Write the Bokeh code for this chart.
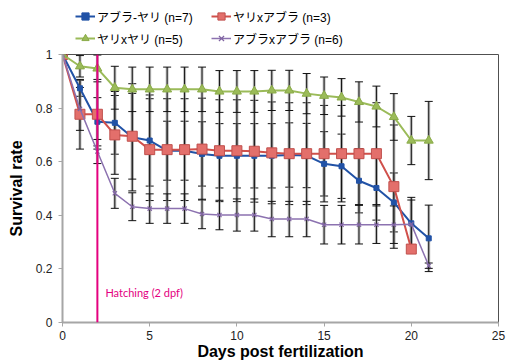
from bokeh.plotting import figure
from bokeh.layouts import column
from bokeh.models import ColumnDataSource, Legend, LegendItem, FixedTicker, Span, Label
from bokeh.embed import file_html
from bokeh.resources import INLINE

# ---- data ----
days = list(range(22))
abura_yari = [1.0, 0.874, 0.749, 0.745, 0.691, 0.679, 0.641, 0.641, 0.629, 0.622, 0.622,
              0.622, 0.622, 0.625, 0.623, 0.592, 0.583, 0.529, 0.502, 0.448, 0.370, 0.314]
abura_yari_err = [0, 0.03, 0.09, 0.117, 0.2, 0.17, 0.11, 0.11, 0.12, 0.12, 0.12,
                  0.12, 0.12, 0.12, 0.12, 0.12, 0.12, 0.12, 0.12, 0.11, 0.097, 0.124]
yari_abura = [1.0, 0.777, 0.777, 0.700, 0.695, 0.645, 0.645, 0.645, 0.647, 0.641, 0.641,
              0.639, 0.633, 0.630, 0.630, 0.630, 0.630, 0.630, 0.630, 0.507, 0.274]
yari_abura_err = [0, 0.13, 0.13, 0.147, 0.16, 0.19, 0.19, 0.19, 0.19, 0.19, 0.19,
                  0.19, 0.19, 0.19, 0.19, 0.18, 0.18, 0.19, 0.19, 0.23, 0.0]
yari_yari = [1.0, 0.956, 0.948, 0.876, 0.870, 0.870, 0.870, 0.870, 0.870, 0.862, 0.862,
             0.862, 0.866, 0.866, 0.854, 0.846, 0.840, 0.823, 0.806, 0.767, 0.679, 0.679]
yari_yari_err = [0, 0.04, 0.05, 0.08, 0.083, 0.083, 0.083, 0.083, 0.083, 0.078, 0.078,
                 0.078, 0.075, 0.075, 0.075, 0.07, 0.07, 0.075, 0.076, 0.087, 0.09, 0.146]
abura_abura = [1.0, 0.797, 0.638, 0.482, 0.432, 0.425, 0.425, 0.425, 0.405, 0.401, 0.401,
               0.401, 0.386, 0.386, 0.386, 0.365, 0.365, 0.365, 0.365, 0.365, 0.367, 0.212]
abura_abura_err = [0, 0.08, 0.045, 0.056, 0.052, 0.055, 0.055, 0.055, 0.055, 0.055, 0.06,
                   0.06, 0.066, 0.066, 0.066, 0.072, 0.072, 0.072, 0.07, 0.07, 0.09, 0.01]
labels = ["アブラ-ヤリ (n=7)", "ヤリxアブラ (n=3)", "ヤリxヤリ (n=5)", "アブラxアブラ (n=6)"]
x_ticks = [0, 5, 10, 15, 20, 25]
y_ticks = [0, 0.2, 0.4, 0.6, 0.8, 1.0]
y_tick_labels = ["0", "0.2", "0.4", "0.6", "0.8", "1"]
hatching_day = 2
hatching_label = "Hatching (2 dpf)"

FONT = "Liberation Sans"
JFONT = "Liberation Sans, Noto Sans CJK JP"

series = [
    (abura_yari, abura_yari_err, "#2152a6", "#2152a6", "#2152a6", "square", 5, 2),
    (yari_abura, yari_abura_err, "#d0504b", "#e36f6b", "#c0504d", "square", 10, 2),
    (yari_yari, yari_yari_err, "#9bbb59", "#9bbb59", "#8aab48", "triangle", 9, 2),
    (abura_abura, abura_abura_err, "#8c72b0", "#8c72b0", "#8064a2", "x", 6, 1.5),
]

# ---------------- main chart ----------------
p = figure(width=506, height=316, x_range=(0, 25), y_range=(0, 1),
           output_backend="svg", toolbar_location=None,
           min_border_left=62, min_border_right=8, min_border_top=7, min_border_bottom=41)
p.background_fill_color = "white"
p.border_fill_color = "white"
p.xgrid.visible = False
p.ygrid.visible = False
p.outline_line_color = "#505050"
p.outline_line_width = 1

for ax in (p.xaxis[0], p.yaxis[0]):
    ax.axis_line_color = "#a6a6a6"
    ax.axis_line_width = 2
    ax.major_tick_line_color = "#a6a6a6"
    ax.major_tick_line_width = 1
    ax.major_tick_out = 4
    ax.major_tick_in = 0
    ax.minor_tick_line_color = None
    ax.major_label_text_font = FONT
    ax.major_label_text_font_size = "12px"
    ax.major_label_text_color = "#222222"
    ax.axis_label_text_font = FONT
    ax.axis_label_text_font_style = "bold"
    ax.axis_label_text_font_size = "16px"
    ax.axis_label_text_color = "#000000"

p.xaxis.ticker = FixedTicker(ticks=x_ticks)
p.yaxis.ticker = FixedTicker(ticks=y_ticks)
p.yaxis.major_label_overrides = {t: s for t, s in zip(y_ticks, y_tick_labels)}
p.xaxis.axis_label = "Days post fertilization"
p.yaxis.axis_label = "Survival rate"
p.yaxis.major_label_standoff = 6
p.yaxis.axis_label_standoff = 8
p.xaxis.major_label_standoff = 4
p.xaxis.axis_label_standoff = 0

for vals, errs, lc, fc, ec, mk, ms, lw in series:
    n = len(vals)
    src = ColumnDataSource(dict(x=days[:n],
                                lo=[v - e for v, e in zip(vals, errs)],
                                hi=[v + e for v, e in zip(vals, errs)]))
    p.segment(x0="x", y0="lo", x1="x", y1="hi", source=src, line_color="#9a9a9a",
              line_width=3, line_alpha=0.6)
    p.segment(x0="x", y0="lo", x1="x", y1="hi", source=src, line_color="#111111", line_width=1)
    p.scatter(x="x", y="hi", source=src, marker="dash", size=8, line_color="#111111", line_width=1)
    p.scatter(x="x", y="lo", source=src, marker="dash", size=8, line_color="#111111", line_width=1)

p.add_layout(Span(location=hatching_day, dimension="height", line_color="#e4007f", line_width=2))
p.add_layout(Label(x=hatching_day, y=0.111, x_offset=8, text=hatching_label, text_color="#e4007f",
                   text_font="Lato", text_font_size="11px", text_baseline="middle"))


def draw_series(fig, vals, lc, fc, ec, mk, ms, lw):
    n = len(vals)
    src = ColumnDataSource(dict(x=days[:n], y=vals))
    r1 = fig.line(x="x", y="y", source=src, line_color=lc, line_width=lw)
    if mk == "x":
        r2 = fig.scatter(x="x", y="y", source=src, marker="x", size=ms, line_color=ec, line_width=1.2)
    else:
        r2 = fig.scatter(x="x", y="y", source=src, marker=mk, size=ms, fill_color=fc,
                         line_color=ec, line_width=1)
    return r1, r2


for vals, errs, lc, fc, ec, mk, ms, lw in series:
    draw_series(p, vals, lc, fc, ec, mk, ms, lw)

# ---------------- legend strip (same series, view range kept off the data) ----------------
lg = figure(width=506, height=47, x_range=(100, 101), y_range=(100, 101),
            output_backend="svg", toolbar_location=None,
            x_axis_type=None, y_axis_type=None, min_border=0)
lg.outline_line_color = None
lg.xgrid.visible = False
lg.ygrid.visible = False
items = []
for (vals, errs, lc, fc, ec, mk, ms, lw), lab in zip(series, labels):
    r1, r2 = draw_series(lg, vals, lc, fc, ec, mk, ms, lw)
    items.append(LegendItem(label=lab, renderers=[r1, r2]))

legend = Legend(items=items, orientation="horizontal", ncols=2, location=(13, 0),
                padding=0, margin=0, spacing=4, glyph_width=20, glyph_height=18,
                label_height=18, label_width=110, label_standoff=2,
                label_text_font=JFONT, label_text_font_size="12px",
                label_text_color="#000000", border_line_color=None,
                background_fill_alpha=0)
lg.add_layout(legend)

layout = column(lg, p, spacing=0)
open("out.html", "w").write(file_html(layout, INLINE))
